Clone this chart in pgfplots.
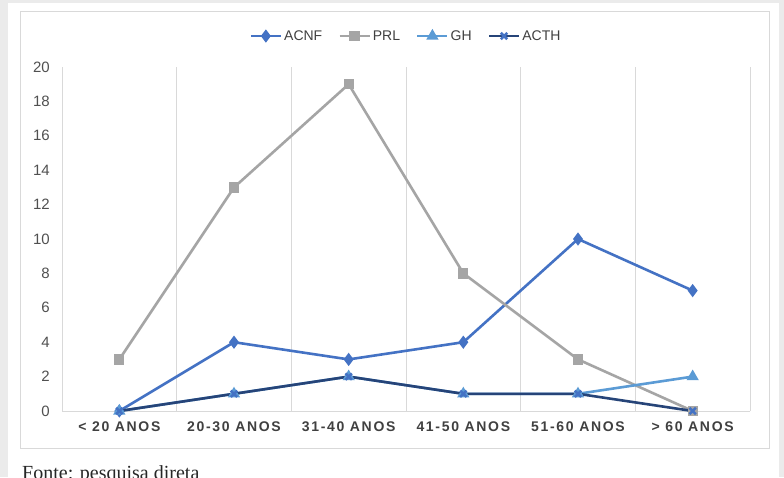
\documentclass[border=0pt]{standalone}
\usepackage{pgfplots}
\pgfplotsset{compat=1.18}
\usepackage{fontspec}
\setmainfont{Liberation Sans}
\newfontfamily\seriffont{Liberation Serif}
\newfontfamily\spacedfont[LetterSpace=12]{Liberation Sans}
\definecolor{acnf}{HTML}{4472C4}
\definecolor{prl}{HTML}{A5A5A5}
\definecolor{gh}{HTML}{5B9BD5}
\definecolor{acth}{HTML}{264478}
\definecolor{gridc}{HTML}{D9D9D9}
\definecolor{txt}{HTML}{505050}
\definecolor{xtxt}{HTML}{404040}
\definecolor{bg}{HTML}{EBEBEB}
\pgfplotsset{
  legend image code/.code={\draw[mark repeat=2,mark phase=2,#1] plot coordinates {(0pt,0pt) (15pt,0pt) (30pt,0pt)};}
}
\begin{document}
\begin{tikzpicture}
\useasboundingbox (0pt,0pt) rectangle (784pt,-477pt);
\clip (0pt,0pt) rectangle (784pt,-477pt);
\fill[bg] (0pt,0pt) rectangle (784pt,-477pt);
\fill[white] (8pt,-3pt) rectangle (779pt,-477pt);
\draw[gridc, line width=1pt] (20pt,-11pt) rectangle (769pt,-448pt);
\node[anchor=base west, inner sep=0pt, font=\seriffont\fontsize{20}{24}\selectfont, text=black!85] at (22pt,-479pt) {Fonte: pesquisa direta};
\begin{axis}[
  at={(62pt,-411pt)}, anchor=south west,
  scale only axis, width=688pt, height=344pt,
  xmin=-0.5, xmax=5.5, ymin=0, ymax=20,
  xtick={0,1,2,3,4,5},
  xticklabels={{< 20 ANOS},{20-30 ANOS},{31-40 ANOS},{41-50 ANOS},{51-60 ANOS},{> 60 ANOS}},
  minor xtick={0.5,1.5,2.5,3.5,4.5,5.5},
  xminorgrids=true,
  minor grid style={gridc, line width=1pt},
  ytick={0,2,...,20},
  major tick length=0pt, minor tick length=0pt,
  axis x line*=bottom, axis y line*=left,
  x axis line style={gridc, line width=1pt, -},
  y axis line style={gridc, line width=1pt, -},
  xticklabel style={font=\spacedfont\bfseries\fontsize{14}{16}\selectfont, text=xtxt, anchor=north, inner sep=0pt, yshift=-11pt},
  yticklabel style={font=\fontsize{15}{18}\selectfont, text=txt, anchor=east, inner sep=0pt, xshift=-12pt},
  /pgf/number format/assume math mode=true,
  clip=false,
  legend columns=4,
  legend style={at={(0.5,1)}, anchor=center, yshift=31pt, draw=none, fill=none,
    font=\fontsize{14}{16}\selectfont, text=xtxt,
    /tikz/every even column/.append style={column sep=14pt}},
  legend cell align=left,
]
\addplot[acnf, line width=2.6pt, mark=diamond*, mark size=4.5pt, mark options={solid}] coordinates {(0,0) (1,4) (2,3) (3,4) (4,10) (5,7)};
\addlegendentry{ACNF}
\addplot[prl, line width=2.6pt, mark=square*, mark size=3.8pt] coordinates {(0,3) (1,13) (2,19) (3,8) (4,3) (5,0)};
\addlegendentry{PRL}
\addplot[gh, line width=2.6pt, mark=triangle*, mark size=4.5pt] coordinates {(0,0) (1,1) (2,2) (3,1) (4,1) (5,2)};
\addlegendentry{GH}
\addplot[acth, line width=2.6pt, mark=x, mark size=4.5pt, mark options={line width=2.5pt, acnf}] coordinates {(0,0) (1,1) (2,2) (3,1) (4,1) (5,0)};
\addlegendentry{ACTH}
\end{axis}
\end{tikzpicture}
\end{document}
